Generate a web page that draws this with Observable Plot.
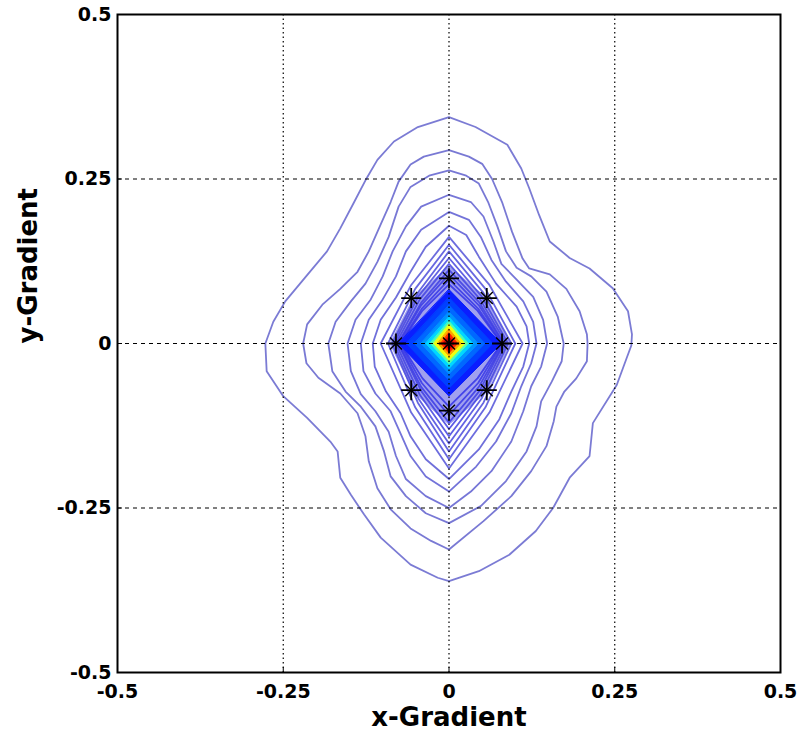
<!DOCTYPE html>
<html>
<head>
<meta charset="utf-8">
<script src="https://cdn.jsdelivr.net/npm/d3@7"></script>
<script src="https://cdn.jsdelivr.net/npm/@observablehq/plot@0.6"></script>
<style>
  html, body { margin: 0; padding: 0; background: #fff; }
</style>
</head>
<body>
<div id="chart"></div>
<script>
// ---- axes ----
const xTicks = [-0.5, -0.25, 0, 0.25, 0.5];
const yTicks = [-0.5, -0.25, 0, 0.25, 0.5];
const gridValues = [-0.25, 0, 0.25];
const xLabel = "x-Gradient";
const yLabel = "y-Gradient";

// ---- contour lines (outermost first), vertices [x, y] ----
const contour1 = [[0,0.344],[0.040,0.329],[0.088,0.302],[0.109,0.266],[0.121,0.236],[0.136,0.195],[0.152,0.155],[0.182,0.130],[0.212,0.114],[0.247,0.084],[0.270,0.049],[0.276,0.014],[0.275,-0.003],[0.268,-0.022],[0.253,-0.063],[0.217,-0.121],[0.212,-0.171],[0.182,-0.204],[0.157,-0.250],[0.131,-0.285],[0.091,-0.321],[0.045,-0.346],[0,-0.361],[-0.017,-0.356],[-0.058,-0.336],[-0.103,-0.295],[-0.128,-0.260],[-0.148,-0.230],[-0.164,-0.204],[-0.168,-0.164],[-0.179,-0.149],[-0.214,-0.113],[-0.250,-0.080],[-0.275,-0.042],[-0.277,0],[-0.265,0.033],[-0.247,0.064],[-0.214,0.104],[-0.184,0.140],[-0.164,0.175],[-0.143,0.215],[-0.126,0.248],[-0.108,0.279],[-0.083,0.307],[-0.047,0.329]];
const contour2 = [[0,0.294],[0.030,0.284],[0.050,0.273],[0.065,0.250],[0.080,0.215],[0.095,0.170],[0.111,0.129],[0.121,0.114],[0.152,0.105],[0.177,0.083],[0.197,0.049],[0.208,0.014],[0.209,0],[0.208,-0.027],[0.192,-0.053],[0.174,-0.073],[0.162,-0.096],[0.158,-0.118],[0.147,-0.156],[0.124,-0.194],[0.094,-0.232],[0.052,-0.270],[0,-0.313],[-0.027,-0.300],[-0.058,-0.281],[-0.088,-0.252],[-0.108,-0.220],[-0.121,-0.179],[-0.126,-0.141],[-0.138,-0.106],[-0.164,-0.076],[-0.197,-0.052],[-0.215,-0.030],[-0.220,0],[-0.214,0.029],[-0.191,0.059],[-0.164,0.083],[-0.138,0.109],[-0.121,0.140],[-0.103,0.181],[-0.088,0.215],[-0.076,0.246],[-0.058,0.272],[-0.038,0.284]];
const contour3 = [[0,0.263],[0.026,0.255],[0.045,0.243],[0.059,0.215],[0.073,0.178],[0.086,0.140],[0.102,0.115],[0.124,0.102],[0.147,0.079],[0.164,0.041],[0.173,0],[0.170,-0.027],[0.155,-0.058],[0.139,-0.088],[0.132,-0.126],[0.117,-0.164],[0.086,-0.209],[0.048,-0.247],[0,-0.273],[-0.035,-0.258],[-0.065,-0.232],[-0.088,-0.202],[-0.098,-0.164],[-0.111,-0.126],[-0.133,-0.096],[-0.156,-0.073],[-0.176,-0.042],[-0.182,0],[-0.171,0.033],[-0.148,0.064],[-0.126,0.091],[-0.108,0.124],[-0.091,0.162],[-0.076,0.208],[-0.058,0.238],[-0.030,0.255]];
const contour4 = [[0,0.226],[0.033,0.215],[0.052,0.193],[0.067,0.155],[0.079,0.121],[0.102,0.097],[0.127,0.071],[0.142,0.036],[0.148,0],[0.139,-0.035],[0.124,-0.065],[0.112,-0.103],[0.094,-0.149],[0.064,-0.194],[0.033,-0.225],[0,-0.250],[-0.035,-0.232],[-0.065,-0.206],[-0.080,-0.171],[-0.091,-0.134],[-0.111,-0.103],[-0.133,-0.077],[-0.148,-0.042],[-0.153,0],[-0.141,0.036],[-0.118,0.067],[-0.100,0.102],[-0.085,0.140],[-0.065,0.178],[-0.042,0.208]];
const contour5 = [[0,0.200],[0.030,0.188],[0.048,0.162],[0.064,0.127],[0.086,0.094],[0.112,0.064],[0.127,0.033],[0.132,0],[0.124,-0.030],[0.109,-0.065],[0.094,-0.106],[0.071,-0.149],[0.041,-0.187],[0,-0.225],[-0.035,-0.202],[-0.058,-0.171],[-0.073,-0.137],[-0.088,-0.103],[-0.111,-0.076],[-0.129,-0.042],[-0.133,0],[-0.121,0.036],[-0.100,0.067],[-0.080,0.102],[-0.065,0.140],[-0.042,0.173]];
const contour6 = [[0,0.179],[0.026,0.165],[0.045,0.132],[0.071,0.091],[0.102,0.056],[0.117,0.026],[0.121,0],[0.112,-0.035],[0.094,-0.073],[0.076,-0.115],[0.045,-0.161],[0,-0.206],[-0.035,-0.176],[-0.058,-0.141],[-0.073,-0.106],[-0.095,-0.073],[-0.112,-0.035],[-0.115,0],[-0.103,0.036],[-0.080,0.070],[-0.058,0.109],[-0.035,0.147]];
const contour7 = [[0,0.162],[0.061,0.089],[0.111,0],[0.061,-0.105],[0,-0.190],[-0.057,-0.105],[-0.103,0],[-0.057,0.089]];
const contour8 = [[0,0.150],[0.055,0.083],[0.100,0],[0.055,-0.097],[0,-0.176],[-0.051,-0.097],[-0.092,0],[-0.051,0.083]];
const contour9 = [[0,0.140],[0.052,0.077],[0.094,0],[0.052,-0.090],[0,-0.164],[-0.047,-0.090],[-0.086,0],[-0.047,0.077]];
const contour10 = [[0,0.130],[0.049,0.072],[0.089,0],[0.049,-0.084],[0,-0.152],[-0.046,-0.084],[-0.083,0],[-0.046,0.072]];
const contour11 = [[0,0.121],[0.047,0.067],[0.086,0],[0.047,-0.078],[0,-0.141],[-0.044,-0.078],[-0.080,0],[-0.044,0.067]];
const contour12 = [[0,0.112],[0.046,0.062],[0.083,0],[0.046,-0.072],[0,-0.130],[-0.042,-0.072],[-0.077,0],[-0.042,0.062]];
const contour13 = [[0,0.105],[0.045,0.058],[0.082,0],[0.045,-0.066],[0,-0.120],[-0.042,-0.066],[-0.076,0],[-0.042,0.058]];
const contour14 = [[0,0.097],[0.044,0.053],[0.080,0],[0.044,-0.060],[0,-0.109],[-0.041,-0.060],[-0.074,0],[-0.041,0.053]];
const contour15 = [[0,0.090],[0.043,0.050],[0.079,0],[0.043,-0.053],[0,-0.096],[-0.040,-0.053],[-0.073,0],[-0.040,0.050]];
const contourColors = ["#6464cc", "#6262cc", "#6060ce", "#5e5ed0", "#5a5ad2", "#5656d4", "#5252d8", "#4e4eda", "#4a4adc", "#4646de", "#4242e0", "#3e3ee2", "#3a3ae4", "#3636e6", "#3232e8"];

// dense band of contour lines that blends into a pale blue area
const denseBand = [[0,0.118],[0.057,0.070],[0.093,0],[0.057,-0.074],[0,-0.124],[-0.054,-0.074],[-0.090,0],[-0.054,0.070]];

// ---- filled core (top, right, bottom, left half-extents) with jet colours ----
const coreTop    = [0.082, 0.070, 0.058, 0.048, 0.040, 0.034, 0.029, 0.022, 0.016, 0.010, 0.005];
const coreRight  = [0.079, 0.066, 0.054, 0.044, 0.036, 0.029, 0.024, 0.018, 0.013, 0.008, 0.004];
const coreBottom = [0.080, 0.068, 0.056, 0.046, 0.038, 0.031, 0.026, 0.019, 0.014, 0.009, 0.005];
const coreLeft   = [0.076, 0.064, 0.052, 0.042, 0.035, 0.028, 0.023, 0.017, 0.012, 0.008, 0.004];
const coreColors = ["#0a1eff", "#0040ff", "#0068ff", "#0094ff", "#00d8ff", "#50ffb0", "#f0ff10", "#ffa000", "#ff2000", "#c80000", "#8a0000"];

// ---- marker points (*) ----
const starX = [0, 0.057, 0.080, 0.057, 0, -0.057, -0.080, -0.057, 0];
const starY = [0.099, 0.069, 0, -0.071, -0.102, -0.071, 0, 0.069, 0];

// ---- build tables ----
const contours = [contour1, contour2, contour3, contour4, contour5, contour6, contour7, contour8,
  contour9, contour10, contour11, contour12, contour13, contour14, contour15];
const lineRows = contours.flatMap((c, i) => c.map(([x, y]) => ({id: i, x, y, color: contourColors[i]})));
const bandRows = denseBand.map(([x, y]) => ({x, y}));
const coreMarks = coreColors.map((color, i) => Plot.line(
  [{x: 0, y: coreTop[i]}, {x: coreRight[i], y: 0}, {x: 0, y: -coreBottom[i]}, {x: -coreLeft[i], y: 0}],
  {x: "x", y: "y", curve: "linear-closed", fill: color, stroke: color, strokeWidth: 1}
));
const stars = starX.map((x, i) => ({x, y: starY[i]}));

const chart = Plot.plot({
  width: 797,
  height: 742,
  marginLeft: 117,
  marginRight: 17,
  marginTop: 14,
  marginBottom: 70,
  x: {domain: [-0.5, 0.5]},
  y: {domain: [-0.5, 0.5]},
  style: {fontFamily: "DejaVu Sans", background: "#fff", color: "#000"},
  marks: [
    Plot.line(bandRows, {x: "x", y: "y", curve: "linear-closed", fill: "#a0a0ef", stroke: "none"}),
    Plot.line(lineRows, {x: "x", y: "y", z: "id", curve: "linear-closed", stroke: "color", strokeWidth: 1.8, strokeOpacity: 0.85}),
    ...coreMarks,
    Plot.ruleX(gridValues, {stroke: "#000", strokeWidth: 1.2, strokeDasharray: "1.5,3"}),
    Plot.ruleY(gridValues, {stroke: "#000", strokeWidth: 1, strokeDasharray: "4,4"}),
    Plot.dot(stars, {x: "x", y: "y", symbol: "plus", r: 6.5, stroke: "#000", strokeWidth: 1.8}),
    Plot.dot(stars, {x: "x", y: "y", symbol: "times", r: 5.5, stroke: "#000", strokeWidth: 1.4}),
    Plot.frame({stroke: "#000", strokeWidth: 2}),
    Plot.axisX({ticks: xTicks, tickSize: -5, fill: "none", stroke: "#000", label: null}),
    Plot.axisY({ticks: yTicks, tickSize: -5, fill: "none", stroke: "#000", label: null}),
    Plot.axisX({ticks: xTicks, tickSize: 0, tickPadding: 12, tickFormat: d => String(d), fontSize: 19, fontWeight: "bold", label: null}),
    Plot.axisY({ticks: yTicks, tickSize: 0, tickPadding: 6, tickFormat: d => String(d), fontSize: 19, fontWeight: "bold", label: null}),
    Plot.text([xLabel], {frameAnchor: "bottom", dy: 53, fontSize: 26, fontWeight: "bold", fill: "#000"}),
    Plot.text([yLabel], {frameAnchor: "left", dx: -89, rotate: -90, fontSize: 26, fontWeight: "bold", fill: "#000"})
  ]
});
document.getElementById("chart").appendChild(chart);
</script>
</body>
</html>
